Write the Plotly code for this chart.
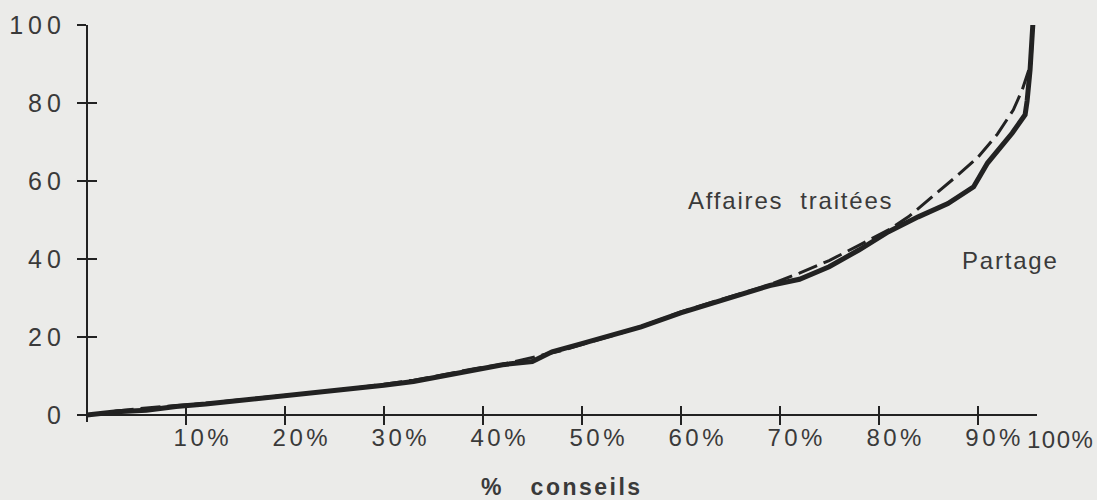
import plotly.graph_objects as go

# ---- data ----
x_ticks = [10, 20, 30, 40, 50, 60, 70, 80, 90]
x_tick_labels = ["10%", "20%", "30%", "40%", "50%", "60%", "70%", "80%", "90%"]
x_last_label = "100%"
y_ticks = [0, 20, 40, 60, 80, 100]
y_tick_labels = ["0", "20", "40", "60", "80", "100"]

partage_x = [0, 3, 6, 9, 12, 15, 18, 21, 24, 27, 30, 33, 36, 39, 42, 45, 47, 50, 53, 56,
             60, 63, 66, 69, 72, 75, 78, 81, 84, 87, 89.6, 91, 93.5, 94.8, 95.0, 95.3, 95.6]
partage_y = [0, 0.8, 1.2, 2.2, 2.8, 3.6, 4.2, 5.0, 5.8, 6.8, 7.6, 8.6, 10.0, 11.5, 12.9, 13.7, 16.2, 18.3, 20.4, 22.6,
             26.2, 28.6, 30.8, 33.2, 34.8, 38.0, 42.3, 47.0, 50.8, 54.2, 58.5, 64.6, 72.3, 77.0, 80.5, 88.5, 101.0]

affaires_x = [0, 3, 6, 9, 12, 15, 18, 21, 24, 27, 30, 33, 36, 39, 42, 45, 48, 51, 54, 57,
              60, 63, 66, 69, 72, 75, 78, 81, 83, 86, 88, 90, 92, 93.6, 94.5, 95.4, 95.6]
affaires_y = [0, 1.0, 1.8, 2.4, 3.0, 3.8, 4.5, 5.2, 6.0, 6.9, 7.9, 8.9, 10.3, 11.8, 13.0, 14.8, 16.5, 18.8, 21.0, 23.6,
              26.4, 28.8, 31.0, 33.4, 36.4, 39.6, 43.5, 47.5, 50.8, 57.2, 61.5, 66.0, 72.0, 78.2, 83.3, 90.2, 101.0]

label_affaires = "Affaires  traitées"
label_partage = "Partage"
axis_title = "%\u00a0\u00a0\u00a0conseils"

# ---- styling ----
INK = "#222222"
TEXT = "#3a3a3a"
BG = "#ebebe9"
FONT = "Liberation Sans, Arial, sans-serif"

X_RANGE = [-0.7, 96]
Y_RANGE = [-1.8, 100]
x_pos = (0 - Y_RANGE[0]) / (Y_RANGE[1] - Y_RANGE[0])
y_pos = (0 - X_RANGE[0]) / (X_RANGE[1] - X_RANGE[0])


def spaced(s, ls):
    return f'<span style="letter-spacing:{ls}px">{s}</span>'


fig = go.Figure()
fig.add_trace(go.Scatter(x=partage_x, y=partage_y, mode="lines", name=label_partage,
                         line=dict(color=INK, width=5), cliponaxis=False, showlegend=False))
fig.add_trace(go.Scatter(x=affaires_x, y=affaires_y, mode="lines", name=label_affaires,
                         line=dict(color=INK, width=3, dash="20px,7px"), cliponaxis=False,
                         showlegend=False))
# invisible helper trace so the overlay axes (inner half of the crossing ticks) are drawn
fig.add_trace(go.Scatter(x=partage_x, y=partage_y, mode="lines", xaxis="x2", yaxis="y2",
                         line=dict(width=0), opacity=0, hoverinfo="skip", showlegend=False))

common = dict(showgrid=False, zeroline=False, tickcolor=INK, tickwidth=2, ticklen=9,
              automargin=False)

fig.update_layout(
    width=1097, height=500,
    margin=dict(l=80, r=60, t=25, b=78),
    paper_bgcolor=BG, plot_bgcolor=BG,
    font=dict(family=FONT, color=TEXT),
    xaxis=dict(range=X_RANGE, anchor="free", position=x_pos, showline=True, linecolor=INK,
               linewidth=2, ticks="outside", tickvals=x_ticks,
               ticktext=[spaced(t, 3.5) for t in x_tick_labels],
               tickfont=dict(size=24, family=FONT, color=TEXT), ticklabelshift=17,
               ticklabelstandoff=-8, **common),
    yaxis=dict(range=Y_RANGE, anchor="free", position=y_pos, showline=True, linecolor=INK,
               linewidth=2, ticks="outside", tickvals=y_ticks,
               ticktext=[spaced(t, 5) for t in y_tick_labels],
               tickfont=dict(size=25, family=FONT, color=TEXT), ticklabelstandoff=6, **common),
    xaxis2=dict(overlaying="x", matches="x", anchor="free", position=x_pos, side="bottom",
                ticks="inside", tickvals=x_ticks, showticklabels=False, showline=False, **common),
    yaxis2=dict(overlaying="y", matches="y", anchor="free", position=y_pos, side="left",
                ticks="inside", tickvals=y_ticks, showticklabels=False, showline=False, **common),
    annotations=[
        dict(text=spaced(label_affaires, 1.8), xref="paper", yref="paper", x=0.742, y=0.559,
             xanchor="center", yanchor="middle",
             showarrow=False, font=dict(size=24, family=FONT, color=TEXT)),
        dict(text=spaced(label_partage, 1.8), xref="paper", yref="paper", x=0.972, y=0.408,
             xanchor="center", yanchor="middle",
             showarrow=False, font=dict(size=24, family=FONT, color=TEXT)),
        dict(text=spaced(axis_title, 2.5), xref="paper", yref="paper", x=0.504, y=-0.164,
             xanchor="center", yanchor="middle",
             showarrow=False, font=dict(size=23, family=FONT, color=TEXT, weight="bold")),
        dict(text=spaced(x_last_label, 1.5), xref="paper", yref="paper", x=0.987, y=-0.045,
             xanchor="left", yanchor="middle", showarrow=False,
             font=dict(size=24, family=FONT, color=TEXT)),
    ],
)

fig.write_html("out.html", config={"displayModeBar": False},
               post_script="document.body.style.margin='0';"
                           "document.body.style.background='" + BG + "';")
